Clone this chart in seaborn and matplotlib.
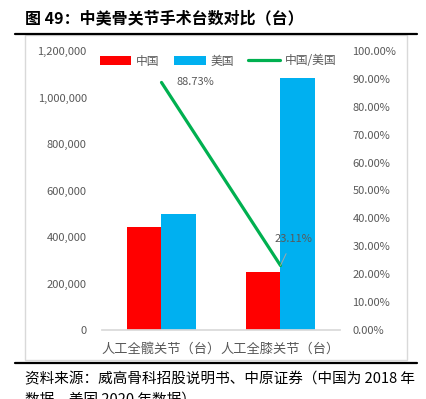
import numpy as np
import pandas as pd
import matplotlib
matplotlib.use("Agg")
import matplotlib.pyplot as plt
import seaborn as sns
from matplotlib.patches import Patch, Rectangle
from matplotlib.lines import Line2D
from matplotlib.ticker import FuncFormatter, MultipleLocator

# data
categories = ["人工全髋关节（台）", "人工全膝关节（台）"]
china = [442000, 250000]
usa = [498000, 1082000]
ratio = [0.8873, 0.2311]
series_names = ["中国", "美国", "中国/美国"]

RED = "#FF0000"
BLUE = "#00B0F0"
GREEN = "#00B050"
GREY = "#595959"


def main():
    sns.set_theme(style="white")
    plt.rcParams["font.family"] = ["Noto Sans CJK SC", "DejaVu Sans"]

    df = pd.DataFrame({
        "category": categories * 2,
        "count": china + usa,
        "country": [series_names[0]] * len(categories) + [series_names[1]] * len(categories),
    })

    fig = plt.figure(figsize=(4.27, 3.99), dpi=100)
    ax = fig.add_axes([102 / 427, 1 - 330 / 399, 238 / 427, 279 / 399])

    sns.barplot(
        data=df, x="category", y="count", hue="country",
        palette=[RED, BLUE], width=0.58, saturation=1,
        legend=False, ax=ax, linewidth=0,
    )
    ax.set_ylim(0, 1200000)
    ax.yaxis.set_major_locator(MultipleLocator(200000))
    ax.yaxis.set_major_formatter(FuncFormatter(lambda v, _: f"{int(v):,}"))
    ax.set_xlabel("")
    ax.set_ylabel("")
    for side in ["top", "left", "right"]:
        ax.spines[side].set_visible(False)
    ax.spines["bottom"].set_color("#D9D9D9")
    ax.tick_params(axis="y", length=0, pad=11, labelsize=8, labelcolor=GREY)
    ax.tick_params(axis="x", length=0, pad=9, labelsize=9.5, labelcolor=GREY)

    # ratio line on the secondary axis
    ax2 = ax.twinx()
    xs = np.arange(len(categories))
    sns.lineplot(x=xs, y=ratio, ax=ax2, color=GREEN, linewidth=2.3)
    ax2.set_ylim(0, 1)
    ax2.yaxis.set_major_locator(MultipleLocator(0.1))
    ax2.yaxis.set_major_formatter(FuncFormatter(lambda v, _: f"{v * 100:.2f}%"))
    ax2.set_ylabel("")
    for side in ["top", "left", "right", "bottom"]:
        ax2.spines[side].set_visible(False)
    ax2.tick_params(axis="y", length=0, pad=9, labelsize=8, labelcolor=GREY)
    ax.set_xlim(-0.5, len(categories) - 0.5)

    # data labels
    ax2.annotate(f"{ratio[0] * 100:.2f}%", xy=(xs[0], ratio[0]),
                 xytext=(11, 0), textcoords="offset points",
                 ha="left", va="center", fontsize=8, color=GREY)
    ax2.annotate(f"{ratio[1] * 100:.2f}%", xy=(xs[1], ratio[1]),
                 xytext=(9, 19), textcoords="offset points",
                 ha="center", va="center", fontsize=8, color=GREY,
                 arrowprops=dict(arrowstyle="-", color="#A6A6A6", lw=0.7,
                                 shrinkA=5, shrinkB=0))

    handles = [
        Patch(facecolor=RED, edgecolor="none"),
        Patch(facecolor=BLUE, edgecolor="none"),
        Line2D([0], [0], color=GREEN, lw=2.3),
    ]
    fig.legend(handles, series_names, loc="center", ncol=3,
               bbox_to_anchor=(218 / 427, 1 - 61 / 399),
               frameon=False, fontsize=8.5, labelcolor=GREY,
               handlelength=2.7, handletextpad=0.4, columnspacing=1.2)

    # frame, rules and captions
    fig.patches.append(Rectangle((25 / 427, 1 - 360 / 399), 382 / 427, 325 / 399,
                                 transform=fig.transFigure, fill=False,
                                 edgecolor="#D9D9D9", lw=1))
    for y in [34, 363]:
        fig.add_artist(Line2D([15 / 427, 417 / 427], [1 - y / 399] * 2,
                              transform=fig.transFigure, color="black", lw=1.6))
    fig.text(25 / 427, 1 - 18 / 399, "图 49：中美骨关节手术台数对比（台）",
             fontsize=11.5, fontweight="bold", ha="left", va="center", color="black")
    fig.text(25 / 427, 1 - 379 / 399, "资料来源：威高骨科招股说明书、中原证券（中国为 2018 年",
             fontsize=10.5, ha="left", va="center", color="black")
    fig.text(25 / 427, 1 - 400 / 399, "数据，美国 2020 年数据）",
             fontsize=10.5, ha="left", va="center", color="black")

    fig.savefig("out.png", dpi=100)
    plt.close(fig)


if __name__ == "__main__":
    main()
